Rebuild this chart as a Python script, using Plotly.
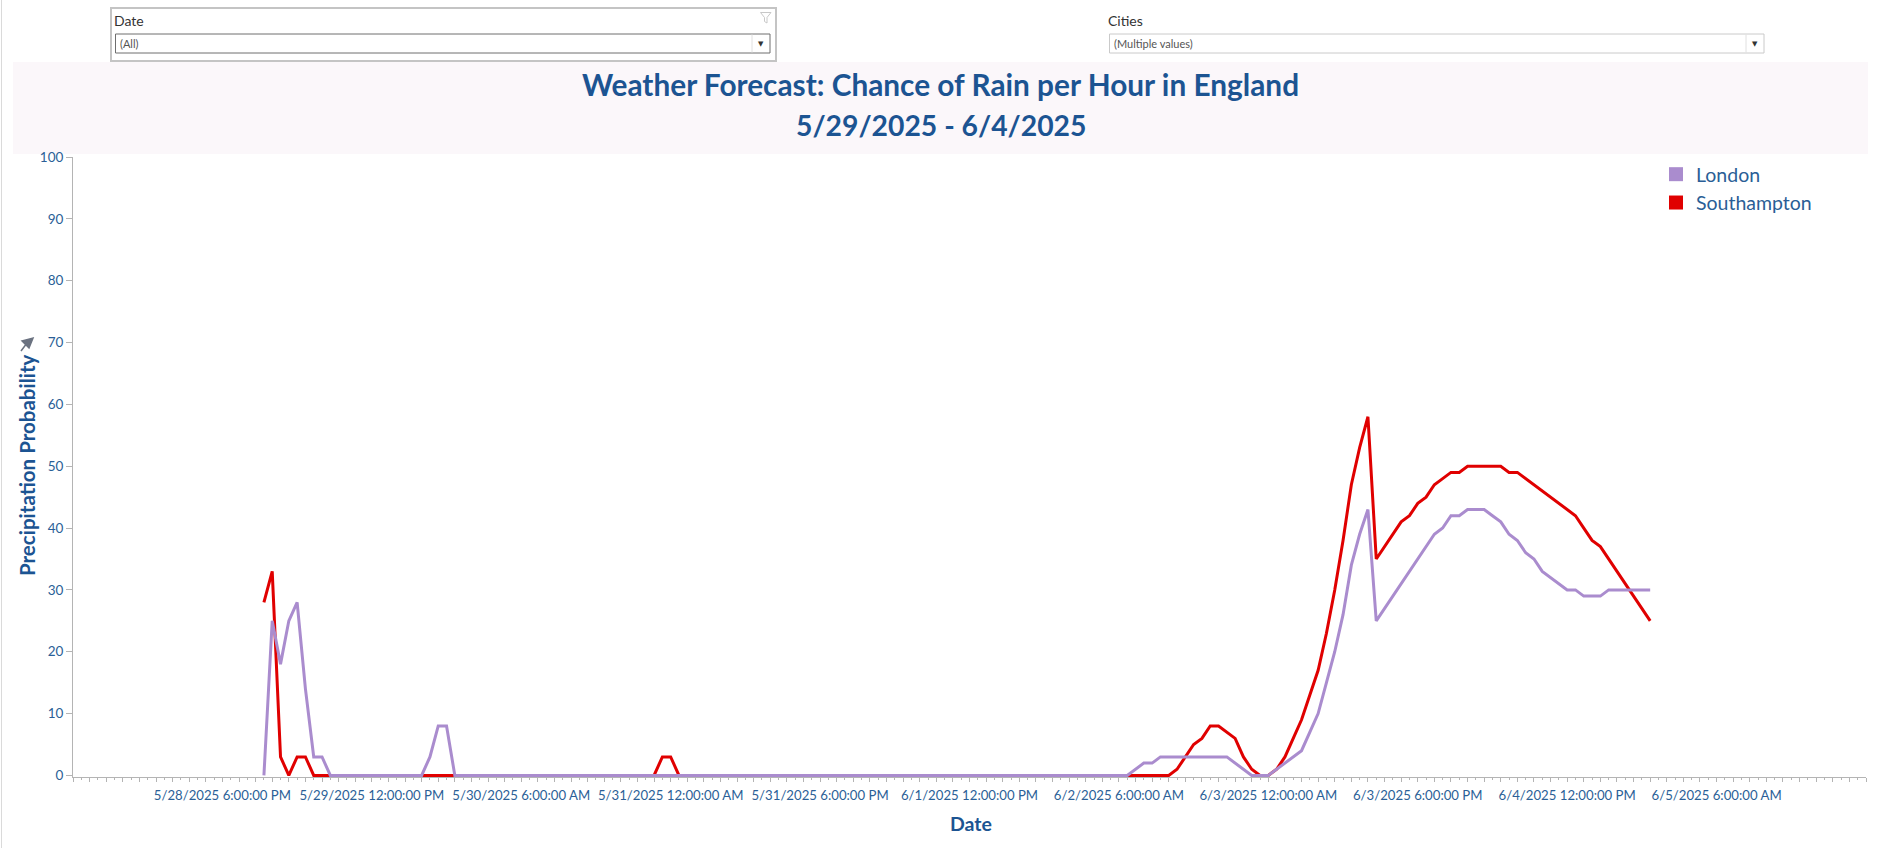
import plotly.graph_objects as go
import pandas as pd

# ---------------- data (vertices) ----------------
london_time = [
    "2025-05-28 23:00", "2025-05-29 00:00", "2025-05-29 01:00", "2025-05-29 02:00",
    "2025-05-29 03:00", "2025-05-29 04:00", "2025-05-29 05:00", "2025-05-29 06:00",
    "2025-05-29 07:00", "2025-05-29 18:00", "2025-05-29 19:00", "2025-05-29 20:00",
    "2025-05-29 21:00", "2025-05-29 22:00", "2025-06-02 07:00", "2025-06-02 08:00",
    "2025-06-02 09:00", "2025-06-02 10:00", "2025-06-02 11:00", "2025-06-02 19:00",
    "2025-06-02 22:00", "2025-06-03 00:00", "2025-06-03 04:00", "2025-06-03 05:00",
    "2025-06-03 06:00", "2025-06-03 07:00", "2025-06-03 08:00", "2025-06-03 09:00",
    "2025-06-03 10:00", "2025-06-03 11:00", "2025-06-03 12:00", "2025-06-03 13:00",
    "2025-06-03 20:00", "2025-06-03 21:00", "2025-06-03 22:00", "2025-06-03 23:00",
    "2025-06-04 00:00", "2025-06-04 01:00", "2025-06-04 02:00", "2025-06-04 03:00",
    "2025-06-04 04:00", "2025-06-04 05:00", "2025-06-04 06:00", "2025-06-04 07:00",
    "2025-06-04 08:00", "2025-06-04 09:00", "2025-06-04 12:00", "2025-06-04 13:00",
    "2025-06-04 14:00", "2025-06-04 16:00", "2025-06-04 17:00", "2025-06-04 22:00",
]
london_value = [
    0, 25, 18, 25,
    28, 14, 3, 3,
    0, 0, 3, 8,
    8, 0, 0, 1,
    2, 2, 3, 3,
    0, 0, 4, 7,
    10, 15, 20, 26,
    34, 39, 43, 25,
    39, 40, 42, 42,
    43, 43, 43, 42,
    41, 39, 38, 36,
    35, 33, 30, 30,
    29, 29, 30, 30,
]

southampton_time = [
    "2025-05-28 23:00", "2025-05-29 00:00", "2025-05-29 01:00", "2025-05-29 02:00",
    "2025-05-29 03:00", "2025-05-29 04:00", "2025-05-29 05:00", "2025-05-30 22:00",
    "2025-05-30 23:00", "2025-05-31 00:00", "2025-05-31 01:00", "2025-06-02 12:00",
    "2025-06-02 13:00", "2025-06-02 14:00", "2025-06-02 15:00", "2025-06-02 16:00",
    "2025-06-02 17:00", "2025-06-02 18:00", "2025-06-02 19:00", "2025-06-02 20:00",
    "2025-06-02 21:00", "2025-06-02 22:00", "2025-06-02 23:00", "2025-06-03 00:00",
    "2025-06-03 01:00", "2025-06-03 02:00", "2025-06-03 03:00", "2025-06-03 04:00",
    "2025-06-03 05:00", "2025-06-03 06:00", "2025-06-03 07:00", "2025-06-03 08:00",
    "2025-06-03 09:00", "2025-06-03 10:00", "2025-06-03 11:00", "2025-06-03 12:00",
    "2025-06-03 13:00", "2025-06-03 16:00", "2025-06-03 17:00", "2025-06-03 18:00",
    "2025-06-03 19:00", "2025-06-03 20:00", "2025-06-03 21:00", "2025-06-03 22:00",
    "2025-06-03 23:00", "2025-06-04 00:00", "2025-06-04 04:00", "2025-06-04 05:00",
    "2025-06-04 06:00", "2025-06-04 13:00", "2025-06-04 14:00", "2025-06-04 15:00",
    "2025-06-04 16:00", "2025-06-04 22:00",
]
southampton_value = [
    28, 33, 3, 0,
    3, 3, 0, 0,
    3, 3, 0, 0,
    1, 3, 5, 6,
    8, 8, 7, 6,
    3, 1, 0, 0,
    1, 3, 6, 9,
    13, 17, 23, 30,
    38, 47, 53, 58,
    35, 41, 42, 44,
    45, 47, 48, 49,
    49, 50, 50, 49,
    49, 42, 40, 38,
    37, 25,
]

tick_times = [
    "2025-05-28 18:00", "2025-05-29 12:00", "2025-05-30 06:00", "2025-05-31 00:00",
    "2025-05-31 18:00", "2025-06-01 12:00", "2025-06-02 06:00", "2025-06-03 00:00",
    "2025-06-03 18:00", "2025-06-04 12:00", "2025-06-05 06:00",
]
tick_labels = [
    "5/28/2025 6:00:00 PM", "5/29/2025 12:00:00 PM", "5/30/2025 6:00:00 AM",
    "5/31/2025 12:00:00 AM", "5/31/2025 6:00:00 PM", "6/1/2025 12:00:00 PM",
    "6/2/2025 6:00:00 AM", "6/3/2025 12:00:00 AM", "6/3/2025 6:00:00 PM",
    "6/4/2025 12:00:00 PM", "6/5/2025 6:00:00 AM",
]
y_ticks = [0, 10, 20, 30, 40, 50, 60, 70, 80, 90, 100]

title_line1 = "Weather Forecast: Chance of Rain per Hour in England"
title_line2 = "5/29/2025 - 6/4/2025"

# ---------------- styling ----------------
W, H = 1878, 848
L, R, T, B = 73, 1866, 157, 777
FONT = "Lato, 'Open Sans', sans-serif"
BLUE = "#1C5492"
TICKBLUE = "#2B5F97"
PURPLE = "#AA8CCE"
RED = "#E00000"
AXIS = "#B4B4B4"


def px(x):
    return (x - L) / (R - L)


def py(y):
    return (B - y) / (B - T)


# major tick marks every 2 hours, labelled every 18 hours
two_hour = pd.date_range("2025-05-28 00:00", "2025-06-06 00:00", freq="2h")
label_map = {pd.Timestamp(t): s for t, s in zip(tick_times, tick_labels)}
major_vals = list(two_hour)
major_text = [label_map.get(t, "") for t in two_hour]

fig = go.Figure()

fig.add_trace(go.Scatter(
    x=pd.to_datetime(southampton_time), y=southampton_value, mode="lines",
    line=dict(color=RED, width=3), name="Southampton", showlegend=False,
    hoverinfo="x+y+name"))
fig.add_trace(go.Scatter(
    x=pd.to_datetime(london_time), y=london_value, mode="lines",
    line=dict(color=PURPLE, width=3), name="London", showlegend=False,
    hoverinfo="x+y+name"))

# legend entries as squares
for name, col in [("London", PURPLE), ("Southampton", RED)]:
    fig.add_trace(go.Scatter(
        x=[None], y=[None], mode="markers", name=name,
        marker=dict(symbol="square", size=14, color=col), showlegend=True))

shapes = [
    # title band
    dict(type="rect", xref="paper", yref="paper", x0=px(13), x1=px(1868),
         y0=py(154), y1=py(62), fillcolor="#FBF7FA", line=dict(width=0),
         layer="below"),
    # dashboard left edge
    dict(type="line", xref="paper", yref="paper", x0=px(1.5), x1=px(1.5),
         y0=py(0), y1=py(848), line=dict(color="#DADADA", width=1)),
    # Date filter: outer box
    dict(type="rect", xref="paper", yref="paper", x0=px(111), x1=px(776),
         y0=py(61), y1=py(8), line=dict(color="#C4C4C4", width=2),
         fillcolor="white"),
    # Date dropdown
    dict(type="rect", xref="paper", yref="paper", x0=px(115.5), x1=px(770),
         y0=py(53), y1=py(34), line=dict(color="#6E6E6E", width=1),
         fillcolor="white"),
    dict(type="line", xref="paper", yref="paper", x0=px(752), x1=px(752),
         y0=py(52.5), y1=py(34.5), line=dict(color="#E0E0E0", width=1)),
    # filter funnel icon
    dict(type="path", xref="paper", yref="paper",
         path="M {a},{b} L {c},{b} L {d},{e} L {d},{f} L {g},{h} L {g},{e} Z".format(
             a=px(760.5), b=py(12.5), c=px(771), d=px(767), e=py(17.5),
             f=py(23), g=px(764.5), h=py(21.5)),
         line=dict(color="#C8C8C8", width=1)),
    # Cities dropdown
    dict(type="rect", xref="paper", yref="paper", x0=px(1109.5), x1=px(1764),
         y0=py(53), y1=py(34), line=dict(color="#CACACA", width=1),
         fillcolor="white"),
    dict(type="line", xref="paper", yref="paper", x0=px(1746), x1=px(1746),
         y0=py(52.5), y1=py(34.5), line=dict(color="#E0E0E0", width=1)),
    # pin icon next to the y-axis title
    dict(type="path", xref="paper", yref="paper",
         path="M {a},{b} L {c},{d} L {e},{f} Z M {g},{h} L {i},{j}".format(
             a=px(22), b=py(341), c=px(33), d=py(338), e=px(29), f=py(348),
             g=px(27), h=py(343), i=px(21), j=py(351)),
         fillcolor="#6B7280", line=dict(color="#6B7280", width=1.5)),
]

annotations = [
    dict(text=title_line1, x=px(940.5), y=py(85), xref="paper", yref="paper",
         showarrow=False, xanchor="center", yanchor="middle",
         font=dict(family=FONT, size=29.8, color=BLUE, weight="bold")),
    dict(text=title_line2, x=px(940.5), y=py(125), xref="paper", yref="paper",
         showarrow=False, xanchor="center", yanchor="middle",
         font=dict(family=FONT, size=28.3, color=BLUE, weight="bold")),
    dict(text="Precipitation Probability", x=px(27), y=py(465), xref="paper",
         yref="paper", showarrow=False, textangle=-90, xanchor="center",
         yanchor="middle", font=dict(family=FONT, size=20.5, color=BLUE, weight="bold")),
    dict(text="Date", x=px(971), y=py(824), xref="paper", yref="paper",
         showarrow=False, xanchor="center", yanchor="middle",
         font=dict(family=FONT, size=19.5, color=BLUE, weight="bold")),
    dict(text="Date", x=px(112), y=py(20.5), xref="paper", yref="paper",
         showarrow=False, xanchor="left", yanchor="middle",
         font=dict(family=FONT, size=14, color="#333333")),
    dict(text="(All)", x=px(118), y=py(44), xref="paper", yref="paper",
         showarrow=False, xanchor="left", yanchor="middle",
         font=dict(family=FONT, size=11, color="#555555")),
    dict(text="▼", x=px(761), y=py(44), xref="paper", yref="paper",
         showarrow=False, xanchor="center", yanchor="middle",
         font=dict(family="DejaVu Sans", size=7, color="#333333")),
    dict(text="Cities", x=px(1106), y=py(20.5), xref="paper", yref="paper",
         showarrow=False, xanchor="left", yanchor="middle",
         font=dict(family=FONT, size=14, color="#333333")),
    dict(text="(Multiple values)", x=px(1112), y=py(44), xref="paper", yref="paper",
         showarrow=False, xanchor="left", yanchor="middle",
         font=dict(family=FONT, size=11, color="#555555")),
    dict(text="▼", x=px(1755), y=py(44), xref="paper", yref="paper",
         showarrow=False, xanchor="center", yanchor="middle",
         font=dict(family="DejaVu Sans", size=7, color="#333333")),
]

fig.update_layout(
    width=W, height=H, autosize=False,
    margin=dict(l=L, r=W - R, t=T, b=H - B, pad=0),
    paper_bgcolor="white", plot_bgcolor="white",
    font=dict(family=FONT, color=TICKBLUE),
    shapes=shapes, annotations=annotations,
    legend=dict(x=px(1656), y=py(155), xanchor="left", yanchor="top",
                xref="paper", yref="paper",
                font=dict(family=FONT, size=19.5, color="#2A5E96"),
                bgcolor="rgba(0,0,0,0)", borderwidth=0, tracegroupgap=0),
    xaxis=dict(
        type="date", range=["2025-05-28 00:00", "2025-06-06 00:00"],
        tickmode="array", tickvals=major_vals, ticktext=major_text,
        ticks="outside", ticklen=4, tickcolor=AXIS, tickwidth=1,
        ticklabelstandoff=2,
        minor=dict(tickmode="linear", tick0="2025-05-28 01:00", dtick=3600000,
                   ticks="outside", ticklen=2, tickcolor=AXIS, tickwidth=1,
                   showgrid=False),
        showline=True, linecolor=AXIS, linewidth=1, showgrid=False,
        zeroline=False, tickfont=dict(family=FONT, size=13.2, color=TICKBLUE),
        fixedrange=True,
    ),
    yaxis=dict(
        range=[-0.25, 100], tickmode="array", tickvals=y_ticks,
        ticks="outside", ticklen=6, tickcolor=AXIS, tickwidth=1,
        showline=True, linecolor=AXIS, linewidth=1, showgrid=False,
        zeroline=False, tickfont=dict(family=FONT, size=13.5, color=TICKBLUE),
        fixedrange=True,
    ),
    hovermode="closest",
)

fig.write_html("out.html", config={"displayModeBar": False},
               post_script="document.body.style.margin='0';document.body.style.overflow='hidden';")
